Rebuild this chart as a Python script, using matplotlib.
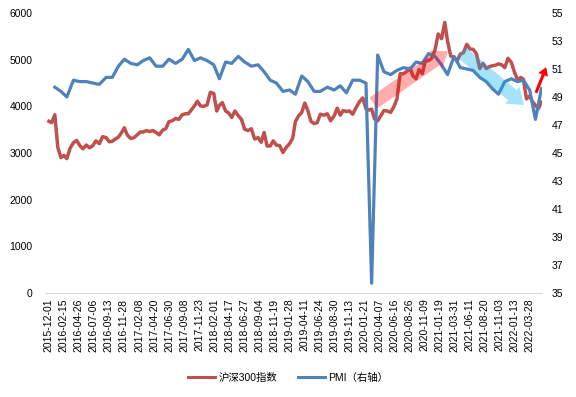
import numpy as np
import pandas as pd
import matplotlib
matplotlib.use("Agg")
import matplotlib.pyplot as plt
from matplotlib.patches import FancyArrowPatch, ArrowStyle

plt.rcParams['font.family'] = ['Liberation Sans', 'Noto Sans CJK SC', 'DejaVu Sans']

# category labels shown on the x axis (every 50 trading days)
tick_labels = ['2015-12-01', '2016-02-15', '2016-04-26', '2016-07-06', '2016-09-13',
               '2016-11-28', '2017-02-08', '2017-04-20', '2017-06-30', '2017-09-08',
               '2017-11-23', '2018-02-01', '2018-04-17', '2018-06-27', '2018-09-04',
               '2018-11-19', '2019-01-28', '2019-04-11', '2019-06-24', '2019-08-30',
               '2019-11-13', '2020-01-21', '2020-04-07', '2020-06-16', '2020-08-26',
               '2020-11-09', '2021-01-19', '2021-03-31', '2021-06-11', '2021-08-20',
               '2021-11-03', '2022-01-13', '2022-03-28']
last_day = '2022-05-31'
n_days = 1642

# CSI 300: first day, then (mid-month, month-end) per month
csi_first = 3680
csi300 = [3650, 3820,                                   # 2015-12
          3120, 2900, 2950, 2880, 3100, 3220, 3270, 3160, 3090, 3170, 3110, 3155,
          3260, 3200, 3350, 3330, 3240, 3250, 3300, 3340, 3430, 3540, 3380, 3310,   # 2016
          3330, 3390, 3450, 3450, 3480, 3460, 3480, 3440, 3390, 3490, 3520, 3670,
          3690, 3740, 3720, 3820, 3840, 3840, 3920, 4010, 4110, 4010, 4000, 4030,   # 2017
          4300, 4275, 3900, 4020, 4080, 3900, 3860, 3760, 3900, 3800, 3720, 3510,
          3480, 3520, 3300, 3330, 3230, 3440, 3150, 3150, 3260, 3170, 3160, 3010,   # 2018
          3120, 3200, 3320, 3670, 3790, 3870, 4070, 3910, 3680, 3630, 3650, 3830,
          3810, 3840, 3690, 3800, 3960, 3810, 3910, 3890, 3900, 3830, 3970, 4100,   # 2019
          4180, 3950, 3920, 3940, 3730, 3690, 3800, 3910, 3900, 3870, 3990, 4160,
          4700, 4700, 4750, 4820, 4650, 4590, 4790, 4700, 4970, 4980, 5030, 5210,   # 2020
          5550, 5450, 5800, 5400, 5080, 5050, 4980, 5120, 5150, 5330, 5230, 5220,
          5130, 4810, 4920, 4810, 4850, 4870, 4880, 4910, 4890, 4830, 5030, 4940,   # 2021
          4730, 4560, 4620, 4580, 4160, 4220, 4100, 4020, 3950, 4090]               # 2022

# official manufacturing PMI, month-end, 2015-12 .. 2022-05
pmi = [49.7,
       49.4, 49.0, 50.2, 50.1, 50.1, 50.0, 49.9, 50.4, 50.4, 51.2, 51.7, 51.4,
       51.3, 51.6, 51.8, 51.2, 51.2, 51.7, 51.4, 51.7, 52.4, 51.6, 51.8, 51.6,
       51.3, 50.3, 51.5, 51.4, 51.9, 51.5, 51.2, 51.3, 50.8, 50.2, 50.0, 49.4,
       49.5, 49.2, 50.5, 50.1, 49.4, 49.4, 49.7, 49.5, 49.8, 49.3, 50.2, 50.2,
       50.0, 35.7, 52.0, 50.8, 50.6, 50.9, 51.1, 51.0, 51.5, 51.4, 52.1, 51.9,
       51.3, 50.6, 51.9, 51.1, 51.0, 50.9, 50.4, 50.1, 49.6, 49.2, 50.1, 50.3,
       50.1, 50.2, 49.5, 47.4, 49.6]

# map calendar dates onto the trading-day category axis
anchor_dates = pd.to_datetime(tick_labels + [last_day])
anchor_idx = list(range(0, 50 * len(tick_labels), 50)) + [n_days - 1]
anchor_ord = np.array([d.toordinal() for d in anchor_dates])


def day_pos(dates):
    return np.interp([d.toordinal() for d in dates], anchor_ord, anchor_idx)


months = pd.period_range('2015-12', '2022-05', freq='M')
csi_dates = [pd.Timestamp('2015-12-01')]
for p in months:
    csi_dates.append(p.start_time + pd.Timedelta(days=14))
    csi_dates.append(p.end_time.normalize())
pmi_dates = [p.end_time.normalize() for p in months]

csi_x = day_pos(csi_dates)
pmi_x = day_pos(pmi_dates)

fig = plt.figure(figsize=(5.76, 3.97), dpi=100)
ax = fig.add_axes([45 / 576, 104 / 397, 497 / 576, 280 / 397])
ax2 = ax.twinx()

ax.plot(csi_x, [csi_first] + csi300, color='#C0504D', lw=2.5, solid_joinstyle='round')
ax2.plot(pmi_x, pmi, color='#4F81BD', lw=2.3, solid_joinstyle='round')

ax.set_xlim(-13, n_days + 1)
ax.set_ylim(0, 6000)
ax.set_yticks(range(0, 6001, 1000))
ax2.set_ylim(35, 55)
ax2.set_yticks(range(35, 56, 2))
ax.set_xticks(anchor_idx[:-1])
ax.set_xticklabels(tick_labels, rotation=90)

for a in (ax, ax2):
    for s in a.spines.values():
        s.set_visible(False)
    a.tick_params(length=0, labelsize=7.5, colors='#000000')
ax.tick_params(axis='y', pad=9)
ax.tick_params(axis='x', pad=4)
ax2.tick_params(axis='y', pad=7)
ax.spines['bottom'].set_visible(True)
ax.spines['bottom'].set_color('#D9D9D9')

# trend arrows (left-axis data coordinates)
arrows = [((1081, 4070), (1330, 5180), '#FF0000', 0.32, 9.5, 16, 11),
          ((1374, 5164), (1583, 4028), '#00B0F0', 0.35, 9.5, 16, 11),
          ((1623, 4290), (1657, 4840), '#FF0000', 1.0, 2.2, 7.5, 6)]
for tail, tip, col, alpha, tw, hw, hl in arrows:
    arr = FancyArrowPatch(tail, tip, transform=ax.transData,
                          arrowstyle=ArrowStyle.Simple(head_length=hl, head_width=hw, tail_width=tw),
                          mutation_scale=1, shrinkA=0, shrinkB=0,
                          color=col, alpha=alpha, lw=0, clip_on=False, zorder=5)
    ax2.add_patch(arr)

h1 = plt.Line2D([], [], color='#C0504D', lw=2.2)
h2 = plt.Line2D([], [], color='#4F81BD', lw=2.2)
fig.legend([h1, h2], ['沪深300指数', 'PMI（右轴）'], loc='center', bbox_to_anchor=(0.5, 19 / 397),
           ncol=2, frameon=False, fontsize=7.5, handlelength=2.6, columnspacing=2.0, handletextpad=0.3)

fig.savefig('out.png', dpi=100)
